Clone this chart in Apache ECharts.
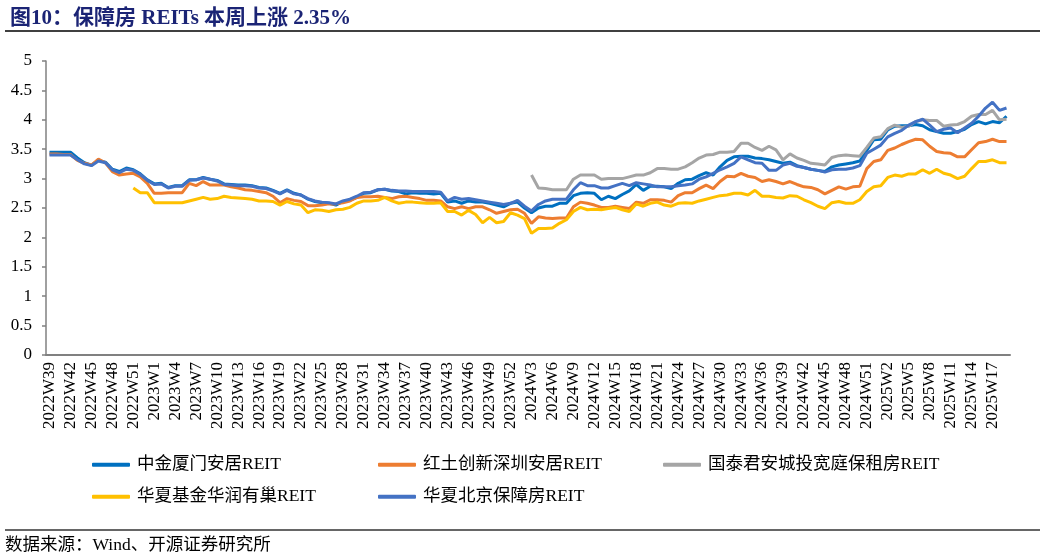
<!DOCTYPE html>
<html>
<head>
<meta charset="utf-8">
<script src="https://cdn.jsdelivr.net/npm/echarts@6/dist/echarts.min.js"></script>
<style>
html,body{margin:0;padding:0;background:#fff;}
#main{width:1046px;height:560px;}
</style>
</head>
<body>
<div id="main"></div>
<script>
const categories = [
"2022W39","2022W40","2022W41","2022W42","2022W43","2022W44","2022W45","2022W46","2022W47","2022W48","2022W49","2022W50","2022W51","2022W52","2022W53",
"2023W1","2023W2","2023W3","2023W4","2023W5","2023W6","2023W7","2023W8","2023W9","2023W10","2023W11","2023W12","2023W13","2023W14","2023W15","2023W16","2023W17","2023W18","2023W19","2023W20","2023W21","2023W22","2023W23","2023W24","2023W25","2023W26","2023W27","2023W28","2023W29","2023W30","2023W31","2023W32","2023W33","2023W34","2023W35","2023W36","2023W37","2023W38","2023W39","2023W40","2023W41","2023W42","2023W43","2023W44","2023W45","2023W46","2023W47","2023W48","2023W49","2023W50","2023W51","2023W52",
"2024W1","2024W2","2024W3","2024W4","2024W5","2024W6","2024W7","2024W8","2024W9","2024W10","2024W11","2024W12","2024W13","2024W14","2024W15","2024W16","2024W17","2024W18","2024W19","2024W20","2024W21","2024W22","2024W23","2024W24","2024W25","2024W26","2024W27","2024W28","2024W29","2024W30","2024W31","2024W32","2024W33","2024W34","2024W35","2024W36","2024W37","2024W38","2024W39","2024W40","2024W41","2024W42","2024W43","2024W44","2024W45","2024W46","2024W47","2024W48","2024W49","2024W50","2024W51","2024W52",
"2025W1","2025W2","2025W3","2025W4","2025W5","2025W6","2025W7","2025W8","2025W9","2025W10","2025W11","2025W12","2025W13","2025W14","2025W15","2025W16","2025W17","2025W18","2025W19"
];

const zhongjinXiamen = [
3.45,3.45,3.45,3.45,3.35,3.27,3.23,3.31,3.28,3.16,3.12,3.18,3.15,3.08,2.98,2.91,2.92,2.85,2.88,2.88,2.98,2.98,3.02,2.99,2.97,2.91,2.9,2.89,2.89,2.88,2.85,2.84,2.8,2.75,2.81,2.75,
2.72,2.65,2.61,2.59,2.58,2.55,2.61,2.63,2.68,2.75,2.76,2.81,2.82,2.79,2.78,2.74,2.76,2.75,2.75,2.74,2.75,2.6,2.62,2.58,2.62,2.6,2.6,2.58,2.55,2.52,2.58,2.6,2.5,2.42,2.5,2.53,
2.53,2.58,2.58,2.71,2.75,2.76,2.75,2.64,2.7,2.66,2.73,2.79,2.9,2.8,2.87,2.87,2.86,2.83,2.92,2.98,2.99,3.05,3.1,3.06,3.2,3.31,3.37,3.38,3.38,3.35,3.34,3.32,3.29,3.26,3.28,3.22,
3.19,3.16,3.14,3.12,3.2,3.23,3.25,3.27,3.3,3.48,3.66,3.67,3.83,3.89,3.9,3.9,3.92,3.9,3.83,3.8,3.77,3.77,3.8,3.84,3.92,3.97,3.93,3.97,3.95,4.06
];

const hongtuShenzhen = [
3.42,3.42,3.41,3.41,3.31,3.26,3.23,3.33,3.27,3.12,3.06,3.08,3.09,3.03,2.92,2.75,2.75,2.76,2.76,2.76,2.92,2.88,2.95,2.89,2.89,2.89,2.86,2.84,2.81,2.8,2.78,2.76,2.7,2.59,2.66,2.63,
2.61,2.54,2.54,2.55,2.57,2.57,2.59,2.62,2.68,2.69,2.69,2.7,2.68,2.66,2.69,2.7,2.68,2.66,2.63,2.63,2.62,2.52,2.49,2.52,2.49,2.52,2.52,2.47,2.41,2.44,2.47,2.48,2.41,2.24,2.35,2.33,
2.32,2.33,2.33,2.52,2.6,2.58,2.55,2.51,2.51,2.53,2.51,2.49,2.6,2.58,2.64,2.64,2.63,2.6,2.71,2.76,2.76,2.83,2.89,2.83,2.95,3.04,3.03,3.09,3.04,3.02,2.95,2.98,2.95,2.91,2.95,2.9,
2.86,2.85,2.81,2.74,2.8,2.86,2.82,2.86,2.87,3.17,3.29,3.32,3.48,3.52,3.58,3.63,3.67,3.66,3.55,3.46,3.44,3.43,3.37,3.37,3.49,3.61,3.63,3.67,3.63,3.63
];

const guotaiKuanting = [
null,null,null,null,null,null,null,null,null,null,null,null,null,null,null,null,null,null,null,null,null,null,null,null,null,null,null,null,null,null,null,null,null,null,null,null,
null,null,null,null,null,null,null,null,null,null,null,null,null,null,null,null,null,null,null,null,null,null,null,null,null,null,null,null,null,null,null,null,null,3.06,2.84,2.83,
2.81,2.81,2.81,2.99,3.06,3.06,3.06,2.99,3.0,3.0,3.0,3.03,3.06,3.06,3.1,3.17,3.17,3.16,3.16,3.2,3.27,3.35,3.4,3.41,3.45,3.45,3.46,3.6,3.6,3.53,3.48,3.55,3.49,3.32,3.42,3.35,
3.31,3.26,3.25,3.23,3.36,3.39,3.4,3.39,3.38,3.53,3.69,3.71,3.85,3.91,3.87,3.89,3.97,4.0,3.99,3.99,3.89,3.91,3.92,3.97,4.06,4.09,4.09,4.16,4.0,4.01
];

const huarunYouchao = [
null,null,null,null,null,null,null,null,null,null,null,null,2.84,2.76,2.76,2.59,2.59,2.59,2.59,2.59,2.62,2.65,2.68,2.65,2.66,2.7,2.68,2.67,2.66,2.65,2.62,2.62,2.61,2.55,2.61,2.57,
2.55,2.42,2.47,2.46,2.44,2.47,2.48,2.51,2.58,2.62,2.62,2.63,2.68,2.62,2.58,2.6,2.6,2.59,2.58,2.58,2.59,2.44,2.44,2.38,2.46,2.39,2.25,2.34,2.25,2.27,2.42,2.38,2.32,2.07,2.15,2.15,
2.16,2.24,2.3,2.44,2.51,2.47,2.48,2.47,2.49,2.51,2.47,2.44,2.57,2.53,2.58,2.6,2.55,2.53,2.58,2.59,2.58,2.62,2.65,2.68,2.71,2.72,2.75,2.75,2.72,2.8,2.7,2.7,2.68,2.67,2.71,2.7,
2.64,2.59,2.53,2.49,2.59,2.61,2.58,2.58,2.64,2.78,2.86,2.88,3.02,3.06,3.04,3.08,3.08,3.15,3.09,3.16,3.09,3.06,3.0,3.04,3.17,3.29,3.29,3.32,3.27,3.27
];

const huaxiaBeijing = [
3.4,3.4,3.4,3.4,3.32,3.25,3.22,3.3,3.27,3.15,3.1,3.16,3.14,3.07,2.97,2.9,2.91,2.84,2.87,2.87,2.97,2.98,3.01,2.99,2.96,2.9,2.89,2.88,2.88,2.87,2.84,2.83,2.79,2.74,2.8,2.74,
2.72,2.66,2.62,2.6,2.59,2.57,2.62,2.65,2.7,2.76,2.77,2.81,2.82,2.8,2.79,2.79,2.78,2.78,2.78,2.78,2.77,2.62,2.68,2.65,2.66,2.64,2.62,2.6,2.58,2.56,2.58,2.63,2.53,2.45,2.56,2.62,
2.65,2.65,2.65,2.81,2.93,2.88,2.88,2.84,2.84,2.88,2.92,2.88,2.93,2.91,2.89,2.86,2.86,2.86,2.88,2.89,2.91,2.99,3.03,3.09,3.15,3.2,3.26,3.37,3.32,3.27,3.26,3.14,3.14,3.23,3.26,3.21,
3.19,3.16,3.14,3.11,3.15,3.16,3.16,3.18,3.22,3.43,3.5,3.57,3.71,3.77,3.82,3.91,3.97,4.01,3.91,3.8,3.84,3.86,3.78,3.86,3.94,4.06,4.2,4.3,4.16,4.2
];

const seriesNames = ["中金厦门安居REIT","红土创新深圳安居REIT","国泰君安城投宽庭保租房REIT","华夏基金华润有巢REIT","华夏北京保障房REIT"];
const seriesColors = ["#0070C0","#ED7D31","#A5A5A5","#FFC000","#4472C4"];
const seriesData = [zhongjinXiamen, hongtuShenzhen, guotaiKuanting, huarunYouchao, huaxiaBeijing];

const SERIF = '"Liberation Serif","Times New Roman","Noto Sans CJK SC",serif';
const chart = echarts.init(document.getElementById('main'), null, {renderer:'canvas'});

const legendPos = [[92,456],[378,456],[663,456],[92,488],[378,488]];

const option = {
  backgroundColor:'#fff',
  animation:false,
  title:{
    text:'图10：保障房 REITs 本周上涨 2.35%',
    left:5, top:3,
    textStyle:{fontFamily:SERIF, fontSize:21, fontWeight:'bold', color:'#1B2475'}
  },
  graphic:[
    {type:'line', shape:{x1:5,y1:31,x2:1040,y2:31}, style:{stroke:'#000',lineWidth:1.5}},
    {type:'line', shape:{x1:5,y1:530,x2:1040,y2:530}, style:{stroke:'#333',lineWidth:1.5}},
    {type:'text', left:5, top:537, style:{text:'数据来源：Wind、开源证券研究所', font:'17.5px '+SERIF, fill:'#000'}}
  ],
  legend: seriesNames.map((n,i)=>({
    data:[n], left:legendPos[i][0], top:legendPos[i][1], padding:0,
    icon:'roundRect', itemWidth:38, itemHeight:4, itemGap:0,
    textStyle:{fontFamily:SERIF, fontSize:17.5, color:'#000', padding:[0,0,0,2]}
  })),
  grid:{left:46, right:36, top:61, bottom:205, containLabel:false},
  xAxis:{
    type:'category', data:categories, boundaryGap:true,
    axisLine:{show:true, lineStyle:{color:'#808080', width:2}},
    axisTick:{show:false},
    axisLabel:{interval:2, rotate:90, margin:7, fontFamily:SERIF, fontSize:17, color:'#000'}
  },
  yAxis:{
    type:'value', min:0, max:5, interval:0.5,
    axisLine:{show:true, lineStyle:{color:'#808080', width:1.5}},
    axisTick:{show:true, length:4, lineStyle:{color:'#808080', width:1.5}},
    splitLine:{show:false},
    axisLabel:{margin:14, fontFamily:SERIF, fontSize:17, color:'#000'}
  },
  series: seriesNames.map((n,i)=>({
    name:n, type:'line', data:seriesData[i], showSymbol:false, symbol:'none',
    lineStyle:{width:3, color:seriesColors[i]}, itemStyle:{color:seriesColors[i]},
    connectNulls:false
  }))
};
chart.setOption(option);
</script>
</body>
</html>
